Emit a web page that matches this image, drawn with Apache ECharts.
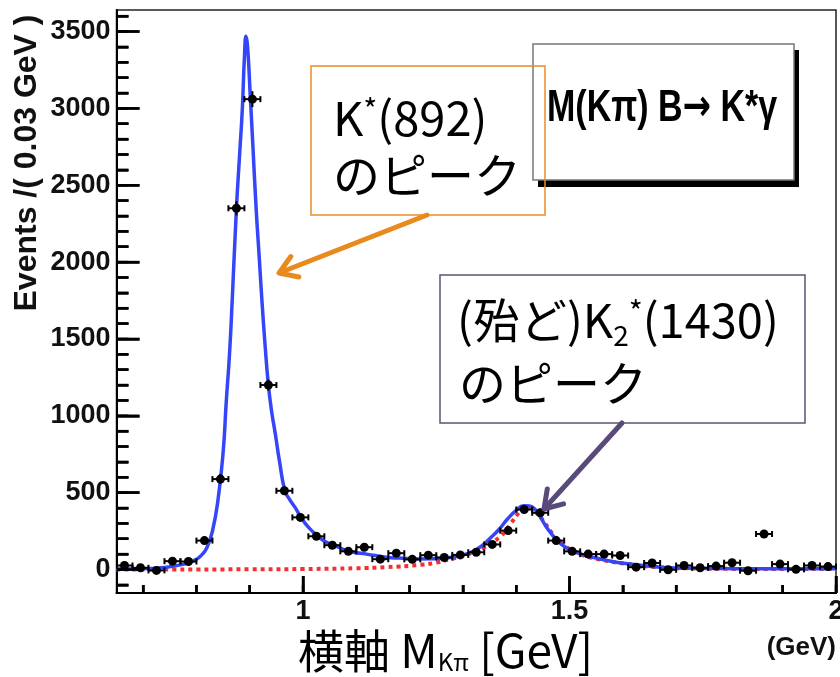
<!DOCTYPE html>
<html><head><meta charset="utf-8">
<script src="https://cdn.jsdelivr.net/npm/echarts@6/dist/echarts.min.js"></script>
<style>html,body{margin:0;padding:0;background:#fff}#c{width:840px;height:677px}</style>
</head><body><div id="c"></div>
<script>
// ---- data ----
const binCenters = [0.665,0.695,0.725,0.755,0.785,0.815,0.845,0.875,0.905,0.935,
  0.965,0.995,1.025,1.055,1.085,1.115,1.145,1.175,1.205,1.235,
  1.265,1.295,1.325,1.355,1.385,1.415,1.445,1.475,1.505,1.535,
  1.565,1.595,1.625,1.655,1.685,1.715,1.745,1.775,1.805,1.835,
  1.865,1.895,1.925,1.955,1.985];
const events = [26,11,-6,54,52,188,588,2350,3060,1200,
  512,339,216,158,118,145,67,106,66,93,
  78,95,112,163,253,390,369,188,118,100,
  100,91,15,42,-2,26,11,22,44,-8,
  231,35,1,26,19];
const eventErr = [20,18,18,20,20,24,32,46,52,36,
  27,24,22,20,19,20,18,19,18,19,
  18,19,20,21,23,26,26,22,20,19,
  19,19,17,17,16,16,16,16,16,16,
  17,16,16,16,16];
const binWidth = 0.03;

const fitX = [0.65,0.68,0.71,0.74,0.77,0.79,0.80,0.81,0.82,0.83,0.84,0.85,0.856,0.862,0.867,0.875,0.881,0.886,0.890,0.893,
  0.896,0.901,0.906,0.912,0.918,0.923,0.929,0.935,0.941,0.948,0.956,0.966,0.975,0.985,1.000,1.013,1.030,1.044,1.060,1.080,
  1.094,1.119,1.156,1.181,1.218,1.243,1.28,1.305,1.32,1.336,1.35,1.368,1.384,1.40,1.414,1.425,1.436,1.446,1.455,1.467,
  1.48,1.492,1.517,1.548,1.58,1.61,1.64,1.672,1.70,1.734,1.78,1.86,2.0];
const fitY = [3,4,6,13,30,50,66,95,145,250,440,760,1095,1400,1743,2348,2700,2990,3330,3470,
  3400,3080,2750,2348,2020,1743,1450,1199,1030,881,700,512,455,404,320,264,210,177,155,125,
  112,100,80,74,69,70,80,100,120,155,200,262,330,385,415,413,388,340,285,228,
  180,147,105,76,52,37,25,15,10,8,6,5,5];

const bkgX = [0.65,0.9,1.0,1.1,1.156,1.22,1.25,1.28,1.31,1.34,1.37,1.39,1.405,1.415,1.425,1.436,1.45,1.47,1.49,1.52,1.55,1.61,1.67,1.73,1.8,2.0];
const bkgY = [0,1,3,8,15,30,45,70,100,145,215,300,370,400,403,375,320,225,155,100,70,35,14,7,4,3];

const xRange = [0.65, 2.0];
const yRange = [-153, 3640];
const xLabelValues = [1, 1.5, 2];
const xMinorTicks = [0.7,0.8,0.9,1.0,1.1,1.2,1.3,1.4,1.5,1.6,1.7,1.8,1.9,2.0];
const yLabelValues = [0,500,1000,1500,2000,2500,3000,3500];
const yMinorTicks = [-100,0,100,200,300,400,500,600,700,800,900,1000,1100,1200,1300,1400,1500,1600,1700,1800,1900,2000,2100,2200,2300,2400,2500,2600,2700,2800,2900,3000,3100,3200,3300,3400,3500,3600];
const xMinorTickRange = [0.7, 2.0, 0.1];   // [first, last, step]
const xMajorTickRange = [1.0, 2.0, 0.5];
const yMinorTickRange = [-100, 3600, 100];
const yMajorTickRange = [0, 3500, 500];

// ---- layout ----
const W = 840, H = 677;
const G = {left:116.5, right:4, top:10, bottom:84};
const plotW = W - G.left - G.right, plotH = H - G.top - G.bottom;
const pxPerX = plotW / (xRange[1]-xRange[0]);
const pxPerY = plotH / (yRange[1]-yRange[0]);

const JP = "'Noto Sans CJK JP', 'Noto Sans', sans-serif";
const HV = "'Liberation Sans', Arial, sans-serif";
const chart = echarts.init(document.getElementById('c'), null, {renderer:'canvas'});

function arrow(x1,y1,x2,y2,color,w){
  const dx=x2-x1, dy=y2-y1, L=Math.hypot(dx,dy), ux=dx/L, uy=dy/L;
  const h=17, s=11;
  const bx=x2-ux*h, by=y2-uy*h;
  const p1=[bx-uy*s, by+ux*s], p2=[bx+uy*s, by-ux*s];
  return [
    {type:'line', z:100, shape:{x1:x1,y1:y1,x2:x2-ux*2,y2:y2-uy*2}, style:{stroke:color,lineWidth:w,lineCap:'round'}},
    {type:'polyline', z:100, shape:{points:[p1,[x2,y2],p2]}, style:{stroke:color,lineWidth:w,lineCap:'round',lineJoin:'round',fill:null}}
  ];
}

// tick-only grids aligned with the main plot
function xTickGrid(r){
  return {left:G.left + (r[0]-xRange[0])*pxPerX, right:G.right + (xRange[1]-r[1])*pxPerX, top:G.top, bottom:G.bottom, show:false, containLabel:false, outerBoundsMode:'none'};
}
function yTickGrid(r){
  return {left:G.left, right:G.right, top:G.top + (yRange[1]-r[1])*pxPerY, bottom:G.bottom + (r[0]-yRange[0])*pxPerY, show:false, containLabel:false, outerBoundsMode:'none'};
}
const hiddenAxis = (gi)=>({type:'value', gridIndex:gi, show:false, min:0, max:1, axisLine:{onZero:false}});
function tickAxis(gi, r, len, pos){
  return {type:'value', gridIndex:gi, min:r[0], max:r[1], interval:r[2], position:pos,
    axisLine:{show:true, onZero:false, lineStyle:{color:'#000', width:2}},
    axisLabel:{show:true, formatter:function(){return '';}}, splitLine:{show:false},
    axisTick:{show:true, inside:true, length:len, lineStyle:{color:'#000', width:2.5}}};
}

const baseGraphics = [
    {type:'rect', z:90, shape:{x:538, y:50, width:261, height:137}, style:{fill:'#000'}},
    {type:'rect', z:91, shape:{x:533, y:44, width:261, height:136}, style:{fill:'#fff', stroke:'#777', lineWidth:1.5}},
    {type:'text', z:92, x:547, y:109, scaleY:1.3,
      style:{text:'{a|M(Kπ) B}{r|→}{a| K*γ}', verticalAlign:'middle', align:'left',
        rich:{a:{fontSize:34, fontWeight:'bold', fontFamily:HV, fill:'#000'}, r:{fontSize:34, fontWeight:'bold', fontFamily:"'DejaVu Sans'", fill:'#000'}}}},
    {type:'text', z:92, x:27, y:163, rotation:Math.PI/2,
      style:{text:'Events /( 0.03 GeV )', font:'bold 32px '+HV, fill:'#111', align:'center', verticalAlign:'middle'}},
    {type:'text', z:92, x:836, y:648,
      style:{text:'(GeV)', font:'bold 26px '+HV, fill:'#111', align:'right', verticalAlign:'middle'}},
    {type:'text', z:92, x:298, y:651,
      style:{text:'{a|横軸 M}{s|Kπ}{a| [GeV]}', verticalAlign:'middle', align:'left',
        rich:{a:{fontSize:46, fontFamily:JP, fill:'#000'}, s:{fontSize:24, fontFamily:JP, fill:'#000', verticalAlign:'bottom'}}}},
    {type:'rect', z:95, shape:{x:311, y:66, width:234, height:149}, style:{fill:null, stroke:'#EA8C25', lineWidth:1.5}},
    {type:'text', z:96, x:333, y:118,
      style:{text:'{a|K}{s|*}{a|(892)}', verticalAlign:'middle', align:'left',
        rich:{a:{fontSize:47, fontFamily:JP, fill:'#000'}, s:{fontSize:30, fontFamily:JP, fill:'#000', verticalAlign:'top'}}}},
    {type:'text', z:96, x:333, y:175,
      style:{text:'のピーク', font:'47px '+JP, fill:'#000', verticalAlign:'middle', align:'left'}},
    {type:'rect', z:95, shape:{x:440, y:275, width:365, height:148}, style:{fill:null, stroke:'#5F5175', lineWidth:1.5}},
    {type:'text', z:96, x:457, y:320,
      style:{text:'{a|(殆ど)K}{b|2}{s|*}{a|(1430)}', verticalAlign:'middle', align:'left',
        rich:{a:{fontSize:47, fontFamily:JP, fill:'#000'}, b:{fontSize:28, fontFamily:JP, fill:'#000', verticalAlign:'bottom', padding:[0,0,-6,0]}, s:{fontSize:30, fontFamily:JP, fill:'#000', verticalAlign:'top'}}}},
    {type:'text', z:96, x:459, y:383,
      style:{text:'のピーク', font:'47px '+JP, fill:'#000', verticalAlign:'middle', align:'left'}}
  ].concat(arrow(427,215,279,273,'#E98A1F',5)).concat(arrow(622,423,544,509,'#594A7A',5));

const option = {
  animation:false,
  grid:[
    {left:G.left, right:G.right, top:G.top, bottom:G.bottom, show:true, borderColor:'#222', borderWidth:1.5, containLabel:false, outerBoundsMode:'none'},
    xTickGrid(xMinorTickRange), xTickGrid(xMajorTickRange),
    yTickGrid(yMinorTickRange), yTickGrid(yMajorTickRange)
  ],
  xAxis:[
    {type:'value', gridIndex:0, min:xRange[0], max:xRange[1], position:'bottom', splitLine:{show:false},
      axisLine:{show:true, onZero:false, lineStyle:{color:'#000', width:2}},
      axisTick:{show:false},
      axisLabel:{show:true, customValues:xLabelValues, fontSize:27, fontWeight:'bold', fontFamily:HV, color:'#111', margin:5,
        formatter:function(v){return String(v);}}},
    tickAxis(1, xMinorTickRange, 8, 'bottom'),
    tickAxis(2, xMajorTickRange, 17, 'bottom'),
    hiddenAxis(3), hiddenAxis(4)
  ],
  yAxis:[
    {type:'value', gridIndex:0, min:yRange[0], max:yRange[1], position:'left', splitLine:{show:false},
      axisLine:{show:true, onZero:false, lineStyle:{color:'#000', width:2}},
      axisTick:{show:false},
      axisLabel:{show:true, customValues:yLabelValues, fontSize:27, fontWeight:'bold', fontFamily:HV, color:'#111', margin:6,
        formatter:function(v){return String(v);}}},
    hiddenAxis(1), hiddenAxis(2),
    tickAxis(3, yMinorTickRange, 12, 'left'),
    tickAxis(4, yMajorTickRange, 23, 'left')
  ],
  series:[
    {type:'line', name:'bkg', xAxisIndex:0, yAxisIndex:0, showSymbol:false, smooth:0.5,
      data:bkgX.map((x,i)=>[x,bkgY[i]]), clip:true,
      lineStyle:{color:'#F23030', width:4, type:[4,4], cap:'butt'}, z:2},
    {type:'line', name:'fit', xAxisIndex:0, yAxisIndex:0, showSymbol:false, smooth:0.5,
      data:fitX.map((x,i)=>[x,fitY[i]]), clip:true,
      lineStyle:{color:'#3446F8', width:3.5}, z:3},
    {type:'custom', name:'data', xAxisIndex:0, yAxisIndex:0, clip:true, z:4,
      encode:{x:0, y:1},
      data:binCenters.map((x,i)=>[x, events[i], eventErr[i]]),
      renderItem:function(params, api){
        const x=api.value(0), y=api.value(1), e=api.value(2);
        const c=api.coord([x,y]);
        const l=api.coord([x-binWidth/2,y]), r=api.coord([x+binWidth/2,y]);
        const t=api.coord([x,y+e]), b=api.coord([x,y-e]);
        return {type:'group', children:[
          {type:'line', shape:{x1:l[0],y1:l[1],x2:r[0],y2:r[1]}, style:{stroke:'#000', lineWidth:2}},
          {type:'line', shape:{x1:l[0],y1:l[1]-3,x2:l[0],y2:l[1]+3}, style:{stroke:'#000', lineWidth:2}},
          {type:'line', shape:{x1:r[0],y1:r[1]-3,x2:r[0],y2:r[1]+3}, style:{stroke:'#000', lineWidth:2}},
          {type:'line', shape:{x1:t[0],y1:t[1],x2:b[0],y2:b[1]}, style:{stroke:'#000', lineWidth:2}},
          {type:'circle', shape:{cx:c[0],cy:c[1],r:4.5}, style:{fill:'#000'}}
        ]};
      }}
  ],
  graphic: baseGraphics
};
chart.setOption(option);

// extra tick marks placed through the library's own pixel conversion
try {
  const tickEls = [];
  function xt(v, len){ const p=chart.convertToPixel({gridIndex:0}, [v, yRange[0]]);
    tickEls.push({type:'line', z:80, shape:{x1:p[0],y1:p[1]-0.5,x2:p[0],y2:p[1]-len}, style:{stroke:'#000', lineWidth:2.5}}); }
  function yt(v, len){ const p=chart.convertToPixel({gridIndex:0}, [xRange[0], v]);
    tickEls.push({type:'line', z:80, shape:{x1:p[0]+0.5,y1:p[1],x2:p[0]+len,y2:p[1]}, style:{stroke:'#000', lineWidth:2.5}}); }
  xMinorTicks.forEach(v=>xt(v,8));
  xLabelValues.forEach(v=>xt(v,17));
  yMinorTicks.forEach(v=>yt(v,12));
  yLabelValues.forEach(v=>yt(v,23));
  chart.setOption({graphic: baseGraphics.concat(tickEls)});
} catch(e) {}
</script>
</body></html>
